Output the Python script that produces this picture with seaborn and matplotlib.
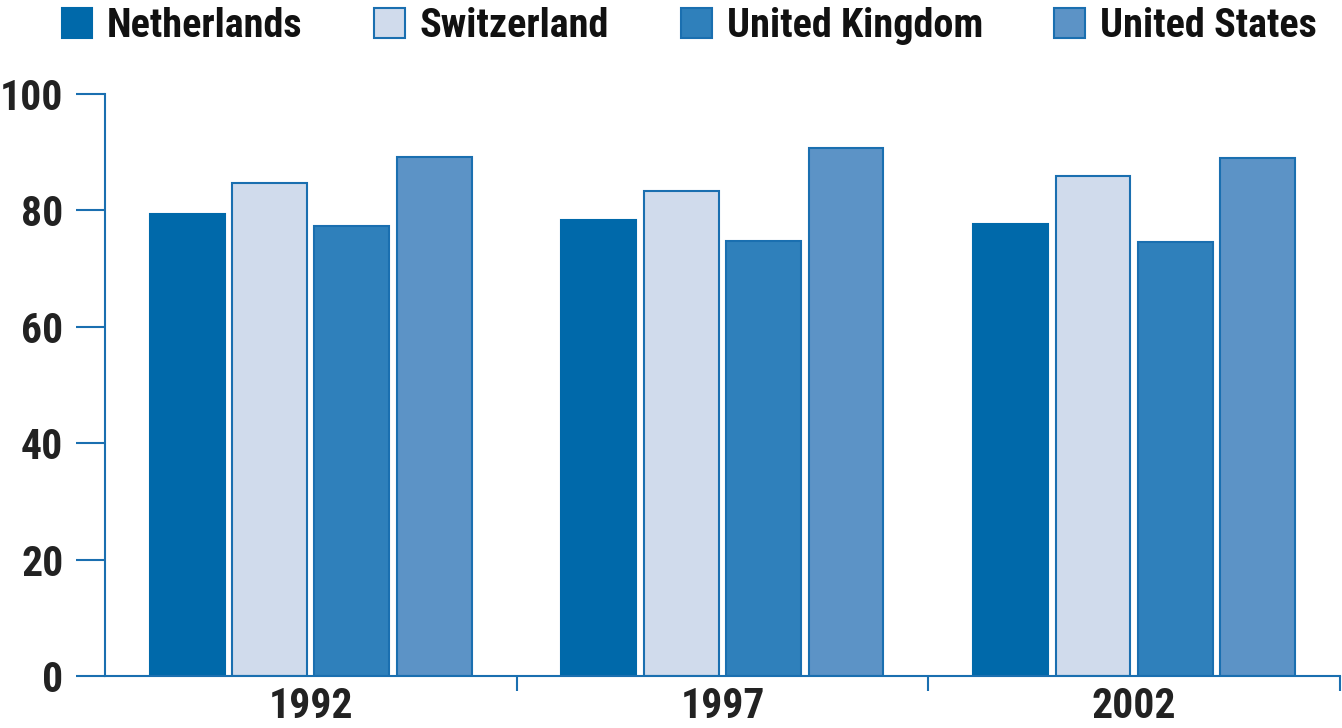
import pandas as pd
import seaborn as sns
import matplotlib.pyplot as plt
from matplotlib.patches import Patch

years = ["1992", "1997", "2002"]
countries = ["Netherlands", "Switzerland", "United Kingdom", "United States"]
netherlands = [79.4, 78.4, 77.7]
switzerland = [84.7, 83.3, 85.9]
united_kingdom = [77.3, 74.7, 74.6]
united_states = [89.2, 90.7, 89.0]
colors = ["#0069aa", "#d0dbec", "#2f80bb", "#5c93c6"]
edge = "#1a6fb0"

sns.set_theme(style="white")
plt.rcParams["font.family"] = ["Roboto Condensed", "Liberation Sans Narrow",
                               "Liberation Sans", "DejaVu Sans"]
plt.rcParams["font.weight"] = "bold"

rows = []
for name, vals in zip(countries, [netherlands, switzerland, united_kingdom, united_states]):
    for y, v in zip(years, vals):
        rows.append({"Year": y, "Country": name, "Value": v})
df = pd.DataFrame(rows)

fig = plt.figure(figsize=(13.42, 7.28), dpi=100)
ax = fig.add_axes([0.0782, 0.0714, 0.9203, 0.7996])

sns.barplot(data=df, x="Year", y="Value", hue="Country", hue_order=countries,
            palette=dict(zip(countries, colors)), saturation=1, width=0.8, gap=0.09,
            edgecolor=edge, linewidth=1.5, legend=False, ax=ax)

# Netherlands bars have no visible outline
for bar in ax.containers[0]:
    bar.set_edgecolor(colors[0])

ax.set_xlim(-0.5, 2.5)
ax.set_ylim(0, 100)
ax.set_yticks([0, 20, 40, 60, 80, 100])
ax.set_xlabel("")
ax.set_ylabel("")

for s in ["top", "right"]:
    ax.spines[s].set_visible(False)
for s in ["left", "bottom"]:
    ax.spines[s].set_color(edge)
    ax.spines[s].set_linewidth(1.5)

ax.tick_params(axis="y", direction="out", length=21, width=1.5, color=edge,
               pad=9, labelsize=30, labelcolor="#222222", left=True)
ax.tick_params(axis="x", length=0, pad=7, labelsize=30, labelcolor="#222222")
ax.set_xticks([0.5, 1.5, 2.5], minor=True)
ax.tick_params(axis="x", which="minor", direction="out", length=11, width=1.5,
               color=edge, bottom=True)

handles = [Patch(facecolor=c, edgecolor=(c if i == 0 else edge), linewidth=1.5)
           for i, c in enumerate(colors)]
fig.legend(handles, countries, loc="upper left", bbox_to_anchor=(0.046, 0.99),
           ncol=4, frameon=False, fontsize=29, handlelength=0.76, handleheight=0.76,
           handletextpad=0.37, columnspacing=1.78, borderpad=0, borderaxespad=0,
           labelcolor="#111111")

fig.savefig("out.png", dpi=100)
